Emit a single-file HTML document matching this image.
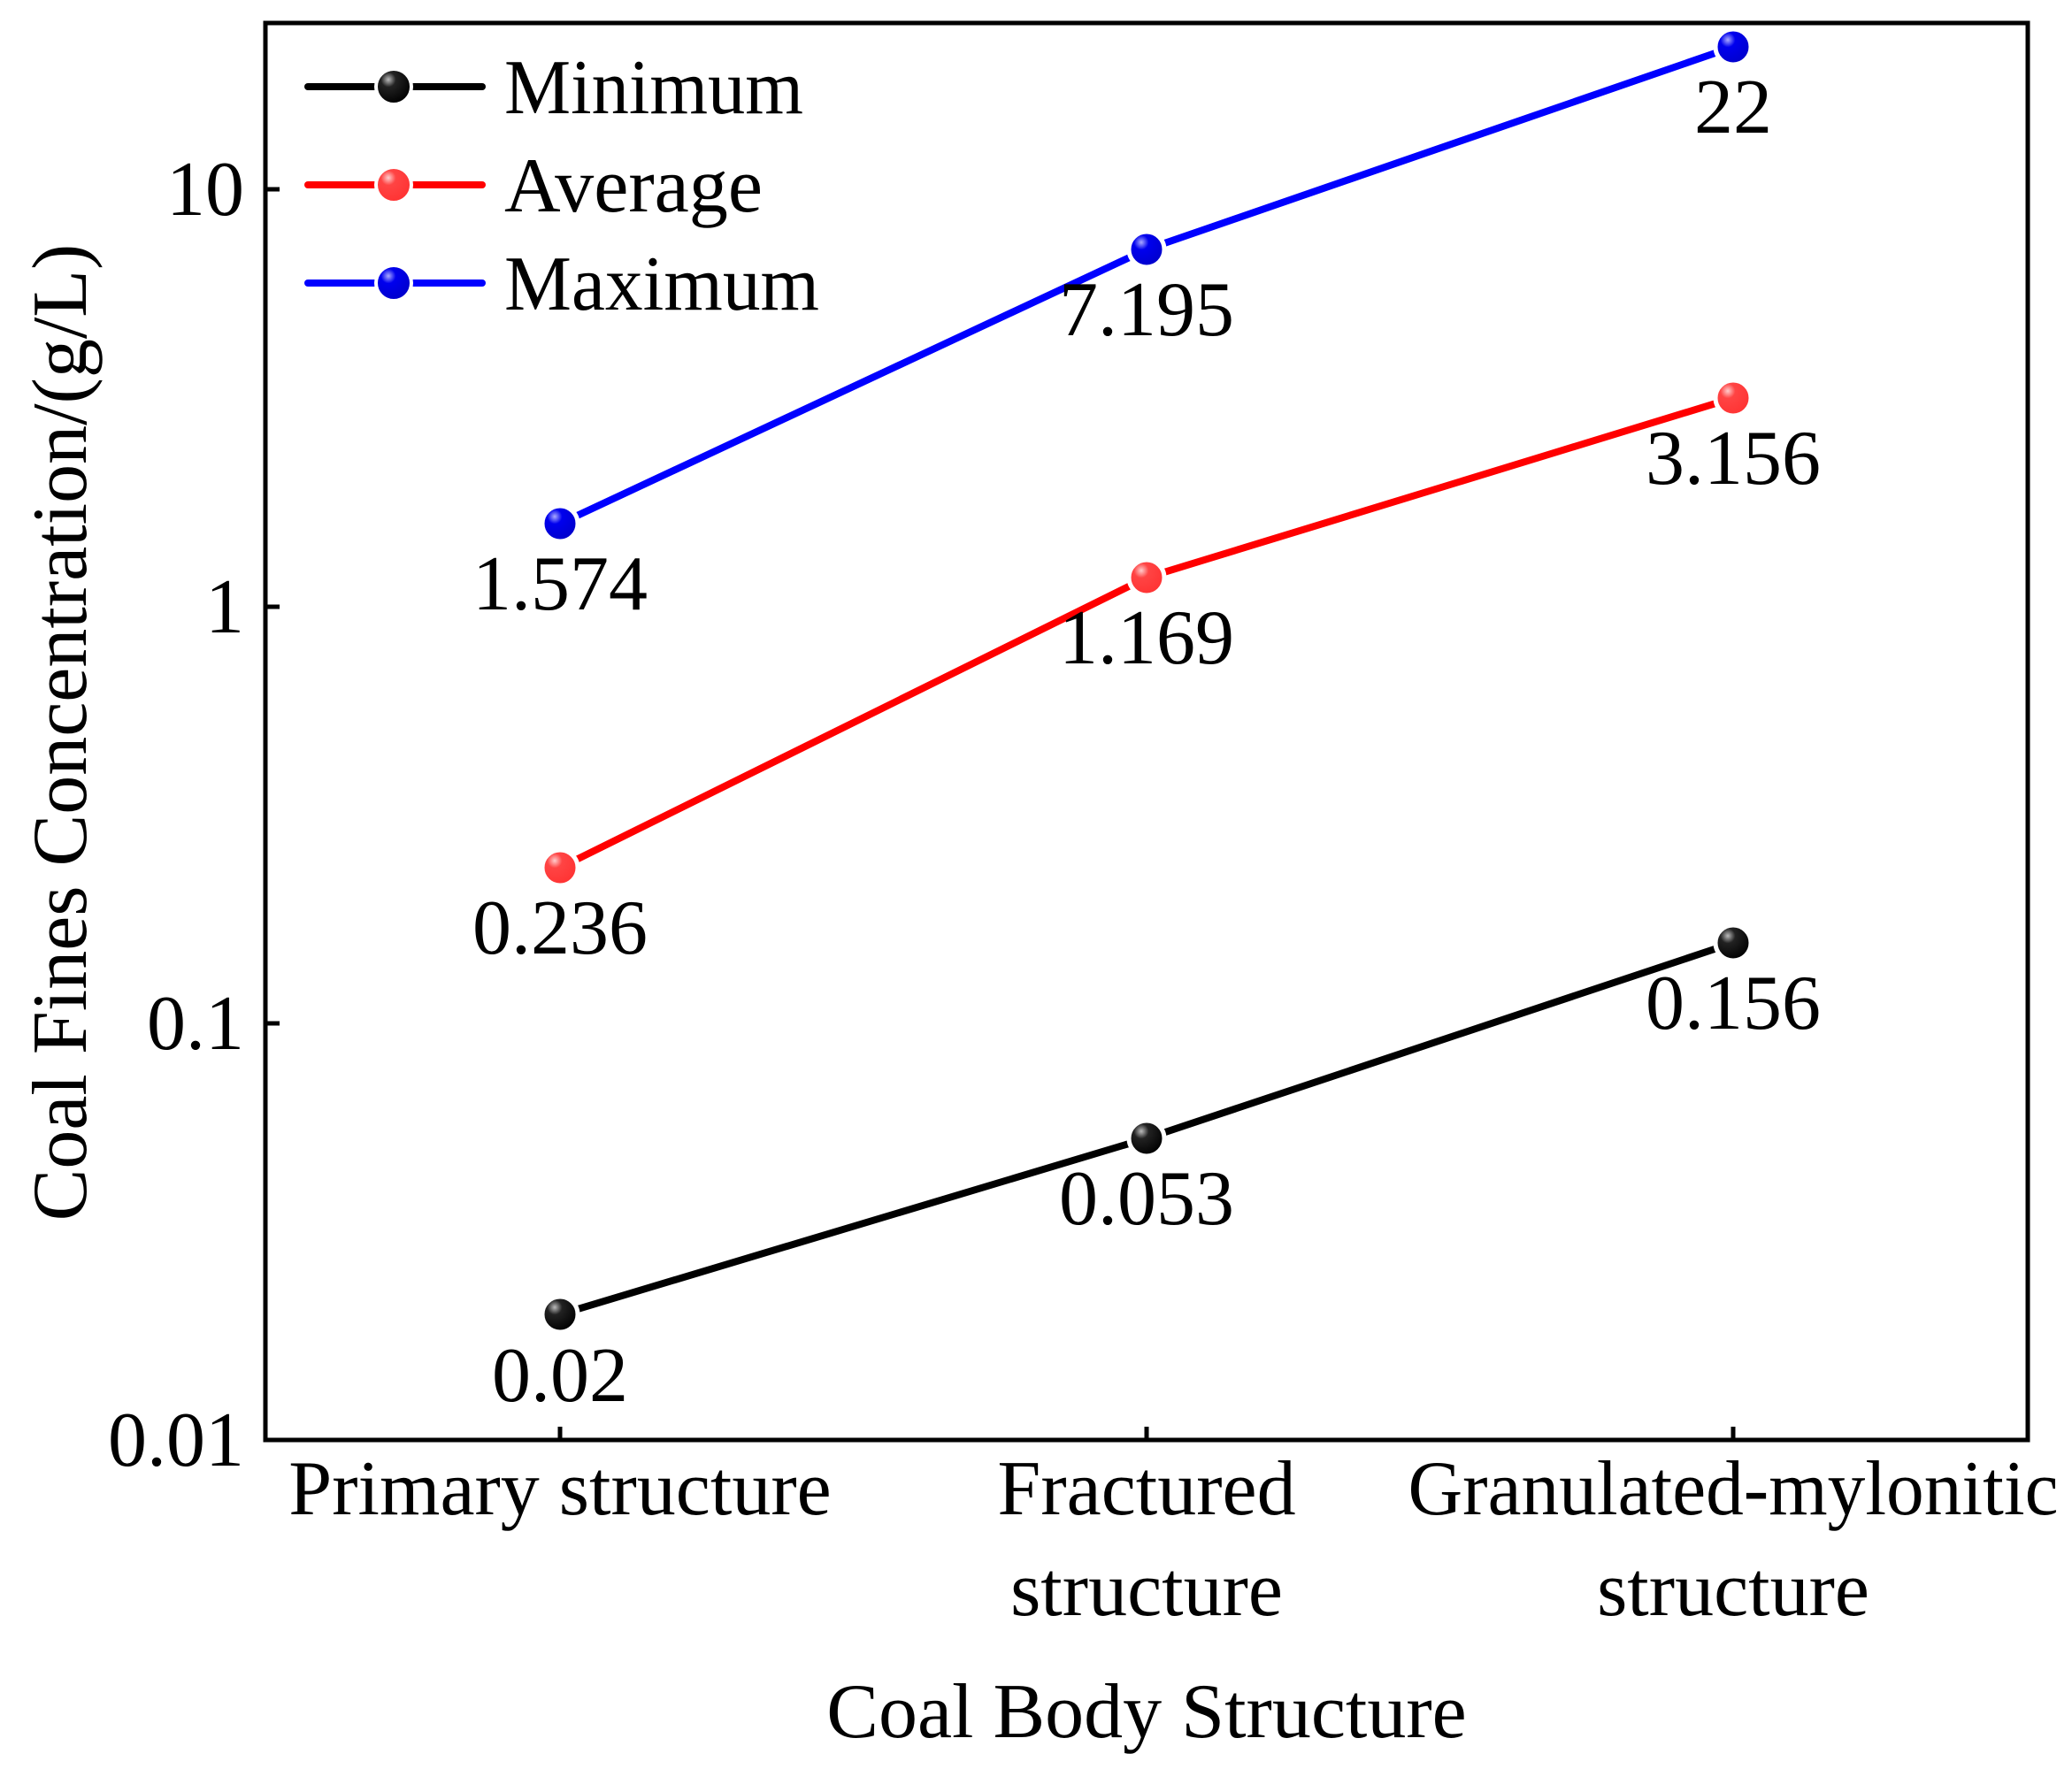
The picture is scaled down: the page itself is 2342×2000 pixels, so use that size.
<!DOCTYPE html>
<html><head><meta charset="utf-8"><style>
html,body{margin:0;padding:0;background:#fff;}
svg{display:block;}
text{font-family:"Liberation Serif","Times New Roman",serif;fill:#000;}
</style></head><body>
<svg width="2342" height="2000" viewBox="0 0 2342 2000" xmlns="http://www.w3.org/2000/svg">
<defs>
<radialGradient id="gk" cx="0.35" cy="0.3" r="0.7"><stop offset="0" stop-color="#bbb"/><stop offset="0.3" stop-color="#222"/><stop offset="1" stop-color="#000"/></radialGradient>
<radialGradient id="gr" cx="0.35" cy="0.3" r="0.7"><stop offset="0" stop-color="#fcc"/><stop offset="0.3" stop-color="#ff4444"/><stop offset="1" stop-color="#f33"/></radialGradient>
<radialGradient id="gb" cx="0.35" cy="0.3" r="0.7"><stop offset="0" stop-color="#aaf"/><stop offset="0.3" stop-color="#0000ee"/><stop offset="1" stop-color="#0000cc"/></radialGradient>
</defs>
<rect x="300" y="26" width="1992" height="1602" fill="none" stroke="#000" stroke-width="5"/>
<g stroke="#000" stroke-width="5">
<line x1="300" y1="1628" x2="316" y2="1628"/>
<line x1="300" y1="1157" x2="316" y2="1157"/>
<line x1="300" y1="686" x2="316" y2="686"/>
<line x1="300" y1="214" x2="316" y2="214"/>
<line x1="633" y1="1628" x2="633" y2="1613"/>
<line x1="1296" y1="1628" x2="1296" y2="1613"/>
<line x1="1959" y1="1628" x2="1959" y2="1613"/>
</g>
<g font-size="88" text-anchor="end">
<text x="276" y="1657">0.01</text>
<text x="276" y="1186">0.1</text>
<text x="276" y="715">1</text>
<text x="276" y="243">10</text>
</g>
<g font-size="88" text-anchor="middle">
<text x="633" y="1712">Primary structure</text>
<text x="1296" y="1712">Fractured</text>
<text x="1296" y="1826">structure</text>
<text x="1959" y="1712" textLength="735" lengthAdjust="spacingAndGlyphs">Granulated-mylonitic</text>
<text x="1959" y="1826">structure</text>
<text x="1296" y="1964">Coal Body Structure</text>
<text transform="translate(97,828) rotate(-90)">Coal Fines Concentration/(g/L)</text>
</g>
<g fill="none" stroke-width="8" stroke-linecap="round">
<polyline points="633,1486 1296,1287 1959,1066" stroke="#000"/>
<polyline points="633,981 1296,653 1959,450" stroke="#f00"/>
<polyline points="633,592 1296,282 1959,53" stroke="#00f"/>
</g>
<g stroke="#fff" stroke-width="5">
<circle cx="633" cy="1486" r="20" fill="url(#gk)"/>
<circle cx="1296" cy="1287" r="20" fill="url(#gk)"/>
<circle cx="1959" cy="1066" r="20" fill="url(#gk)"/>
<circle cx="633" cy="981" r="20" fill="url(#gr)"/>
<circle cx="1296" cy="653" r="20" fill="url(#gr)"/>
<circle cx="1959" cy="450" r="20" fill="url(#gr)"/>
<circle cx="633" cy="592" r="20" fill="url(#gb)"/>
<circle cx="1296" cy="282" r="20" fill="url(#gb)"/>
<circle cx="1959" cy="53" r="20" fill="url(#gb)"/>
</g>
<g font-size="88" text-anchor="middle">
<text x="633" y="1584">0.02</text>
<text x="1296" y="1384">0.053</text>
<text x="1959" y="1163">0.156</text>
<text x="633" y="1078">0.236</text>
<text x="1296" y="750">1.169</text>
<text x="1959" y="547">3.156</text>
<text x="633" y="689">1.574</text>
<text x="1296" y="379">7.195</text>
<text x="1959" y="150">22</text>
</g>
<g stroke-width="8" stroke-linecap="round">
<line x1="348" y1="98" x2="545" y2="98" stroke="#000"/>
<line x1="348" y1="209" x2="545" y2="209" stroke="#f00"/>
<line x1="348" y1="320" x2="545" y2="320" stroke="#00f"/>
</g>
<g stroke="#fff" stroke-width="4">
<circle cx="445" cy="98" r="20" fill="url(#gk)"/>
<circle cx="445" cy="209" r="20" fill="url(#gr)"/>
<circle cx="445" cy="320" r="20" fill="url(#gb)"/>
</g>
<g font-size="88">
<text x="570" y="128" textLength="338" lengthAdjust="spacingAndGlyphs">Minimum</text>
<text x="570" y="239" textLength="292" lengthAdjust="spacingAndGlyphs">Average</text>
<text x="570" y="350" textLength="356" lengthAdjust="spacingAndGlyphs">Maximum</text>
</g>
</svg>
</body></html>
